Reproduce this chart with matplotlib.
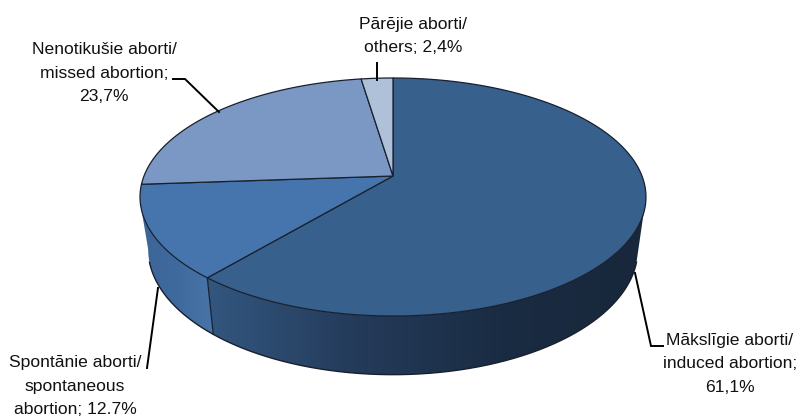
# 3D looking pie, drawn by hand because matplotlib has no perspective pie
import numpy as np
import matplotlib.pyplot as plt
from matplotlib.colors import LinearSegmentedColormap
from matplotlib.patches import Polygon

plt.rcParams['font.family'] = ['Liberation Sans', 'DejaVu Sans']

# Data
shares = [61.1, 12.7, 23.7, 2.4]
labels = ["Mākslīgie aborti/\ninduced abortion;\n61,1%",
          "Spontānie aborti/\nspontaneous\nabortion; 12.7%",
          "Nenotikušie aborti/\nmissed abortion;\n23,7%",
          "Pārējie aborti/\nothers; 2,4%"]
top_colors = ['#38608c', '#4675ad', '#7b98c4', '#afc0d9']

# Projection of the disc
persp = 0.1765


def project(angle, cx, cy, bx, ay):
    u = np.sin(angle)
    v = np.cos(angle)
    d = 1 + persp * v
    return np.column_stack([cx + bx * u / d, cy - ay * v / d])


def top_disc(angle):
    return project(angle, 393, 176, 249, 115.3)


def low_disc(angle):
    return project(angle, 393, 227, 241, 121.6)


fig = plt.figure(figsize=(7.98, 4.18), dpi=100)
ax = fig.add_axes([0, 0, 1, 1])
ax.axis('off')

edges = np.cumsum([0] + shares) / sum(shares) * 2 * np.pi
edge_col = '#18202e'

# Side walls with a left to right gradient
wall_cmaps = [
    LinearSegmentedColormap.from_list('w1', ['#335780', '#243b5a', '#1a2c43', '#18273a']),
    LinearSegmentedColormap.from_list('w2', ['#3c6596', '#3f6a9e', '#4874a8']),
]
# the low disc starts further round than the top one so the outline runs straight
wall_ranges = [(np.radians(100.2), np.radians(106), edges[1], 205, 650),
               (np.radians(254), np.radians(259.8), edges[1], 138, 214)]
for cmap, (a_top, a_low, a_seam, x0, x1) in zip(wall_cmaps, wall_ranges):
    t_top = np.linspace(a_top, a_seam, 150)
    t_low = np.linspace(a_seam, a_low, 150)
    outline = np.vstack([top_disc(t_top), low_disc(t_low)])
    patch = Polygon(outline, closed=True, facecolor='none', edgecolor='none')
    ax.add_patch(patch)
    grad = np.linspace(0, 1, 256).reshape(1, -1)
    img = ax.imshow(grad, cmap=cmap, extent=(x0, x1, 418, 0), aspect='auto', zorder=1)
    img.set_clip_path(patch)

ax.set_xlim(0, 798)
ax.set_ylim(418, 0)

# Lower rim and the wall seam
t = np.linspace(np.radians(106), np.radians(254), 300)
ax.plot(*low_disc(t).T, color=edge_col, lw=1, zorder=2)
seam = np.vstack([top_disc(edges[1:2]), low_disc(edges[1:2])])
ax.plot(*seam.T, color=edge_col, lw=0.9, zorder=2)

# Top face
apex = np.array([[393, 176]])
for i, col in enumerate(top_colors):
    t = np.linspace(edges[i], edges[i + 1], 200)
    pts = np.vstack([apex, top_disc(t)])
    ax.add_patch(Polygon(pts, closed=True, facecolor=col, edgecolor=edge_col, lw=0.9, zorder=3))

# Leader lines
leaders = [([635, 651, 663], [273, 346, 346]),
           ([158, 147], [288, 368]),
           ([173, 185, 219], [79, 79, 112]),
           ([377, 377], [63, 80])]
for lx, ly in leaders:
    ax.plot(lx, ly, color='black', lw=1.4, zorder=4, solid_joinstyle='miter')

# Labels
label_pos = [(730, 364), (75, 386), (104, 73), (413, 36)]
for text, (lx, ly) in zip(labels, label_pos):
    ax.text(lx, ly, text, ha='center', va='center', fontsize=12.6, linespacing=1.68,
            color='#111111', zorder=5)

plt.savefig('out.png', dpi=100)
